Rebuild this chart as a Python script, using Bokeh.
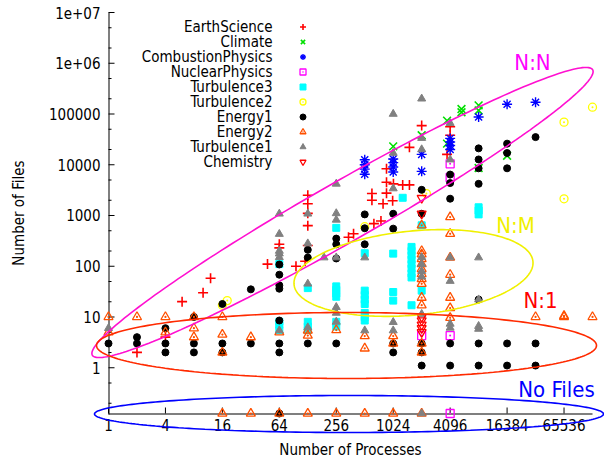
import math
import numpy as np
from bokeh.plotting import figure
from bokeh.models import FixedTicker, Label, Legend, LegendItem, PolyAnnotation, ColumnDataSource
from bokeh.core.properties import value
from bokeh.embed import file_html
from bokeh.resources import INLINE

# ---------------- data ----------------
X_TICKS = [1, 4, 16, 64, 256, 1024, 4096, 16384, 65536]
X_TICK_LABELS = ["1", "4", "16", "64", "256", "1024", "4096", "16384", "65536"]
Y_TICKS = [1, 10, 100, 1000, 10000, 100000, 1000000, 10000000]
Y_TICK_LABELS = ["1", "10", "100", "1000", "10000", "100000", "1e+06", "1e+07"]
Y_MINOR_TICKS = [0.2, 0.5, 2, 5, 20, 50, 200, 500, 2000, 5000, 20000, 50000,
                 200000, 500000, 2000000, 5000000]
X_MIN, X_MAX = 1, 131072
Y_MIN, Y_MAX = 0.125, 10000000   # "No Files" (0) is drawn on the bottom axis

earth_x = [2, 4, 6, 10, 12, 48, 96, 64, 64, 120, 128, 128, 128, 128, 128, 345, 390,
           640, 760, 610, 610, 800, 870, 870, 870, 1010, 1030, 1290, 1520, 1520,
           2048, 4096, 4096, 3800]
earth_y = [2, 4, 20, 30, 58, 110, 100, 270, 230, 125, 255, 630, 1100, 1700, 2500, 373, 435,
           690, 780, 2700, 2000, 1700, 2750, 4500, 8300, 1950, 4200, 4000, 4000, 22000,
           59000, 56000, 38000, 16000]

climate_x = [1024, 2048, 3800, 3800, 5400, 5400, 8192, 8192, 8192, 16384]
climate_y = [23000, 38000, 74000, 26000, 125000, 108000, 148000, 117000, 8600, 15000]

comb_x = [512, 512, 512, 512, 1024, 1024, 1024, 1024, 2048, 2048, 4096, 4096, 4096, 4096,
          8192, 16384, 32768]
comb_y = [12500, 10000, 8200, 6500, 13000, 11000, 9000, 7200, 16000, 7400, 33000, 28000,
          24000, 20000, 87000, 155000, 170000]

nuc_x = [4096, 4096, 2048, 4096, 4096]
nuc_y = [10400, 5600, 4.3, 4.3, 0]

turb3_x = [64, 64, 64, 64, 128, 128, 128, 128, 256, 256, 256, 256, 256, 256, 256,
           512, 512, 512, 512, 512, 512, 512, 512, 1024, 1024, 1024,
           1600, 1600, 1600, 1600, 1600, 1600, 1600, 1600, 1600, 1290, 2048, 2048,
           8192, 8192, 8192]
turb3_y = [110, 8, 7, 5.5, 37, 8, 6.5, 5.5, 570, 40, 34, 29, 25, 8, 6.5,
           180, 33, 27, 22, 18, 12, 10, 8.5, 177, 31, 21,
           240, 200, 165, 135, 110, 90, 72, 60, 17, 2230, 640, 33,
           1450, 1250, 1050]

turb2_x = [16, 18, 512, 2300, 65536, 131072, 65536]
turb2_y = [17, 21, 600, 2700, 69000, 136000, 2130]

energy1_x = [1, 2, 2, 4, 4, 4, 8, 8, 8, 16, 16, 16, 32, 32,
             64, 64, 64, 64, 64, 64, 64, 64, 128, 128, 128, 256, 256, 256, 256,
             512, 512, 512, 1024, 1024, 1024, 1024, 2048, 2048, 2048, 2048, 2048,
             4096, 4096, 4096, 4096, 4096, 8192, 8192, 8192, 8192, 8192, 8192, 8192,
             16384, 16384, 16384, 16384, 16384, 32768, 32768, 32768]
energy1_y = [3, 4, 3, 6, 3, 2, 10, 3, 2, 18, 3, 2, 35, 3,
             108, 68, 42, 36, 8.5, 3, 2, 0, 210, 148, 3, 350, 270, 142, 3,
             1050, 560, 270, 1080, 550, 3, 2, 3200, 1080, 3, 2, 1.1,
             6400, 4350, 2140, 3, 1.1, 21000, 12700, 8500, 4200, 22, 3, 1.1,
             26000, 17000, 8500, 3, 1.1, 35000, 3, 1.1]

energy2_x = [1, 1, 2, 4, 4, 8, 8, 8, 16, 16, 16, 32, 64, 128, 128, 256, 512, 512,
             1024, 1024, 2048, 2048, 2048, 2048, 2048, 2048, 2048, 2048, 2048, 2048, 2048,
             2048, 2048, 4096, 4096, 4096, 4096, 4096, 4096, 4096, 32768, 65536, 65536, 131072,
             16, 32, 64, 128, 256, 512, 1024, 2048]
energy2_y = [10, 5, 10, 10, 5, 10, 6, 4, 10, 4.5, 2, 4, 5, 5.4, 4.3, 5.5, 4.2, 2.4,
             4.2, 3, 640, 200, 172, 138, 110, 88, 70, 56, 45, 24, 17, 3, 2,
             930, 435, 148, 68, 24, 15, 9.6, 10, 10, 10.5, 10,
             0, 0, 0, 0, 0, 0, 0, 0]

turb1_x = [1, 64, 64, 64, 64, 64, 64, 128, 128, 128, 128, 190,
           256, 256, 256, 256, 256, 256, 256, 512, 512,
           1024, 1024, 1024, 1024, 1024,
           2048, 2048, 2048, 2048, 2048, 2048, 2048, 2048, 2048,
           4096, 4096, 4096, 4096, 4096, 4096, 8192, 8192, 8192, 8192]
turb1_y = [6, 1080, 430, 200, 177, 150, 5.4, 1080, 280, 45, 6.2, 148,
           4200, 1100, 820, 148, 15.6, 12, 8, 148, 5.4,
           100000, 17000, 3400, 7.9, 5.4,
           200000, 33500, 20000, 150, 110, 80, 62, 11.4, 0,
           66000, 12600, 148, 51, 7.3, 6.1, 148, 22, 6.6, 5.8]

chem_x = [2048, 2048, 2048, 2048, 2048, 2048, 2048]
chem_y = [2200, 1080, 10, 8.5, 7, 6, 5]

SERIES_NAMES = ["EarthScience", "Climate", "CombustionPhysics", "NuclearPhysics", "Turbulence3",
                "Turbulence2", "Energy1", "Energy2", "Turbulence1", "Chemistry"]
SERIES_X = [earth_x, climate_x, comb_x, nuc_x, turb3_x, turb2_x, energy1_x, energy2_x, turb1_x, chem_x]
SERIES_Y = [earth_y, climate_y, comb_y, nuc_y, turb3_y, turb2_y, energy1_y, energy2_y, turb1_y, chem_y]

REGION_NAMES = ["N:N", "N:M", "N:1", "No Files"]

# ---------------- layout / styles ----------------
W, H = 604, 461
AX_LEFT, AX_RIGHT, AX_TOP, AX_BOTTOM = 108, 592, 12, 413   # pixel box of the axes
px_oct = (AX_RIGHT - AX_LEFT) / math.log2(X_MAX / X_MIN)
px_dec = (AX_BOTTOM - AX_TOP) / math.log10(Y_MAX / Y_MIN)
xr = (X_MIN * 2 ** (-AX_LEFT / px_oct), X_MAX * 2 ** ((W - AX_RIGHT) / px_oct))
yr = (Y_MIN * 10 ** (-(H - AX_BOTTOM) / px_dec), Y_MAX * 10 ** (AX_TOP / px_dec))
MAJOR_TICK, MINOR_TICK, RULE_W = 6, 3, 1.0   # pixels, ticks drawn inwards

FONT = "DejaVu Sans Condensed"
FS = "15px"
STYLES = [
    dict(marker="cross", line_color="#ff0000", fill_color=None, size=10, line_width=1.6),
    dict(marker="x", line_color="#00e000", fill_color=None, size=11, line_width=1.6),
    dict(marker="asterisk", line_color="#0000ff", fill_color=None, size=10, line_width=1.4),
    dict(marker="square_dot", line_color="#ff00ff", fill_color=None, size=8, line_width=1.3),
    dict(marker="square", line_color="#00ffff", fill_color="#00ffff", size=7, line_width=1),
    dict(marker="circle_dot", line_color="#ffff00", fill_color=None, size=8, line_width=1.3),
    dict(marker="circle", line_color="black", fill_color="black", size=7, line_width=1),
    dict(marker="triangle_dot", line_color="#ff5000", fill_color=None, size=9, line_width=1.3),
    dict(marker="triangle", line_color="#808080", fill_color="#808080", size=8, line_width=1),
    dict(marker="inverted_triangle", line_color="#ff0000", fill_color=None, size=9, line_width=1.3),
]
# ellipses in page pixels: (cx, cy, semi-a, semi-b, angle deg (counter-clockwise), color)
ELLIPSES = [(342, 212, 288, 30, 29.7, "#ff10d0"),
            (413, 272.5, 120, 42, 5.5, "#f0f000"),
            (346, 345, 250, 33, 0.0, "#ff2a00"),
            (348.5, 413.5, 254.5, 18.5, 0.0, "#0000ff")]
REGION_LABEL_POS = [(532, 62, "#ff00ff"), (515, 225, "#f0f000"), (540, 300, "#ff0000"), (556, 389, "#0000ff")]

p = figure(width=W, height=H, x_axis_type="log", y_axis_type="log",
           x_range=xr, y_range=yr, output_backend="svg", toolbar_location=None,
           min_border_left=0, min_border_right=0, min_border_top=0, min_border_bottom=0)
p.grid.visible = False
p.outline_line_color = None
p.background_fill_color = "white"

for ax in (p.xaxis[0], p.yaxis[0]):
    ax.axis_line_color = None
    ax.major_tick_line_color = None
    ax.minor_tick_line_color = None
    ax.major_tick_in = 0
    ax.major_tick_out = 0
    ax.minor_tick_in = 0
    ax.minor_tick_out = 0
    ax.major_label_text_font = FONT
    ax.major_label_text_font_size = FS
    ax.major_label_text_color = "black"

p.xaxis[0].ticker = FixedTicker(ticks=X_TICKS, minor_ticks=[])
p.xaxis[0].major_label_overrides = dict(zip(X_TICKS, X_TICK_LABELS))
p.xaxis[0].major_label_standoff = 5
p.xaxis[0].fixed_location = Y_MIN
p.xaxis[0].bounds = (X_MIN, X_MAX)
p.yaxis[0].ticker = FixedTicker(ticks=Y_TICKS, minor_ticks=Y_MINOR_TICKS)
p.yaxis[0].major_label_overrides = dict(zip(Y_TICKS, Y_TICK_LABELS))
p.yaxis[0].major_label_standoff = 8
p.yaxis[0].fixed_location = X_MIN
p.yaxis[0].bounds = (Y_MIN, Y_MAX)

# axis border (left + bottom) and inward ticks, drawn as thin filled bars
def kx(px):
    return 2 ** (px / px_oct)

def ky(px):
    return 10 ** (px / px_dec)

left, right, bottom, top = [], [], [], []
# rules
left += [X_MIN, X_MIN]
right += [X_MIN * kx(RULE_W), X_MAX]
bottom += [Y_MIN * ky(-RULE_W), Y_MIN * ky(-RULE_W)]
top += [Y_MAX, Y_MIN]
# y ticks
for t in Y_TICKS + Y_MINOR_TICKS:
    L = MAJOR_TICK if t in Y_TICKS else MINOR_TICK
    left.append(X_MIN)
    right.append(X_MIN * kx(L))
    bottom.append(t * ky(-RULE_W / 2))
    top.append(t * ky(RULE_W / 2))
# x ticks
for t in X_TICKS:
    left.append(t * kx(-RULE_W / 2))
    right.append(t * kx(RULE_W / 2))
    bottom.append(Y_MIN)
    top.append(Y_MIN * ky(MAJOR_TICK))
border = ColumnDataSource(dict(left=left, right=right, bottom=bottom, top=top))
p.quad(left="left", right="right", bottom="bottom", top="top", source=border,
       fill_color="#000000", fill_alpha=1, line_color=None)

# ellipses (region outlines), screen units measured from the bottom-left of the frame
for (cx, cy, a, b, ang, col) in ELLIPSES:
    t = np.linspace(0, 2 * np.pi, 240, endpoint=False)
    th = math.radians(ang)
    ex = cx + a * np.cos(t) * math.cos(th) - b * np.sin(t) * math.sin(th)
    ey = (H - cy) + a * np.cos(t) * math.sin(th) + b * np.sin(t) * math.cos(th)
    p.add_layout(PolyAnnotation(xs=list(ex), ys=list(ey), xs_units="screen", ys_units="screen",
                                fill_alpha=0, line_alpha=1, line_color=col, line_width=1.6))

renderers = []
for name, xs, ys, st in zip(SERIES_NAMES, SERIES_X, SERIES_Y, STYLES):
    yy = [Y_MIN if v == 0 else v for v in ys]
    src = ColumnDataSource(dict(x=xs, y=yy))
    r = p.scatter("x", "y", source=src, **st)
    renderers.append(r)

legend = Legend(items=[LegendItem(label=value(" "), renderers=[r]) for r in renderers],
                location=(295, H - 168.5), orientation="vertical", glyph_width=15, glyph_height=15,
                spacing=0, padding=0, margin=0, label_width=0, label_height=15,
                label_standoff=0, label_text_font_size="1px", border_line_color=None,
                background_fill_alpha=0)
p.add_layout(legend)

for i, name in enumerate(SERIES_NAMES):
    p.add_layout(Label(x=272, y=H - (26 + 15 * i), x_units="screen", y_units="screen", text=name,
                       text_align="right", text_baseline="middle", text_font=FONT,
                       text_font_size=FS, text_color="black"))

for name, (lx, ly, col) in zip(REGION_NAMES, REGION_LABEL_POS):
    p.add_layout(Label(x=lx, y=H - ly, x_units="screen", y_units="screen", text=name,
                       text_align="center", text_baseline="middle", text_font=FONT,
                       text_font_size="22px", text_color=col))

p.add_layout(Label(x=18, y=H - 212.5, x_units="screen", y_units="screen", text="Number of Files",
                   angle=math.pi / 2, text_align="center", text_baseline="middle",
                   text_font=FONT, text_font_size=FS, text_color="black"))
p.add_layout(Label(x=350, y=H - 449, x_units="screen", y_units="screen", text="Number of Processes",
                   text_align="center", text_baseline="middle",
                   text_font=FONT, text_font_size=FS, text_color="black"))

open("out.html", "w").write(file_html(p, INLINE))
